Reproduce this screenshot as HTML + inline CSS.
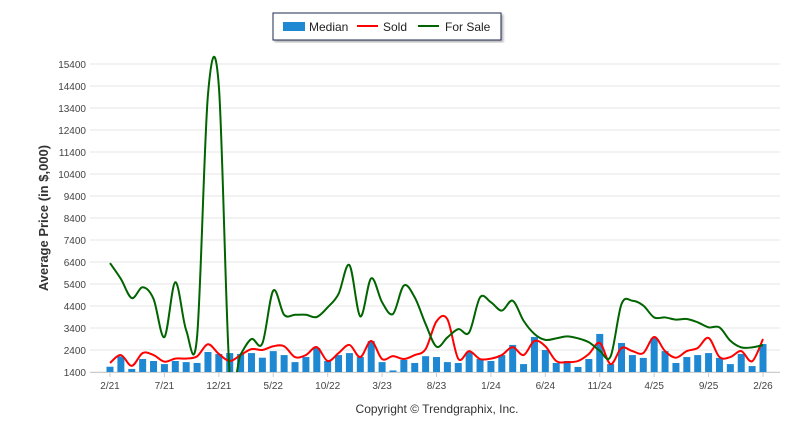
<!DOCTYPE html>
<html><head><meta charset="utf-8"><style>
body{margin:0;background:#fff;width:800px;height:434px;overflow:hidden;font-family:"Liberation Sans",sans-serif}
</style></head><body>
<svg id="chart" width="800" height="434" xmlns="http://www.w3.org/2000/svg">
<defs><clipPath id="pc"><rect x="90" y="40" width="690" height="332"/></clipPath>
<filter id="sh"><feDropShadow dx="2" dy="2" stdDeviation="1" flood-color="#888" flood-opacity="0.6"/></filter></defs>
<g id="grid"></g>
<g id="bars"></g>
<g id="lines" clip-path="url(#pc)"></g>
<g id="xt"></g>
<text x="48" y="218" transform="rotate(-90 48 218)" text-anchor="middle" font-size="13" font-weight="bold" fill="#333">Average Price (in $,000)</text>
<text x="437" y="413" text-anchor="middle" font-size="12" fill="#333">Copyright © Trendgraphix, Inc.</text>
<g>
<rect x="273" y="13" width="228" height="27" fill="#fff" stroke="#1f2a50" stroke-width="1" filter="url(#sh)"/>
<rect x="283" y="22" width="22" height="9" fill="#1e88d2"/>
<text x="309" y="31" font-size="12" fill="#222">Median</text>
<line x1="357" y1="26" x2="378" y2="26" stroke="#f00" stroke-width="2"/>
<text x="383" y="31" font-size="12" fill="#222">Sold</text>
<line x1="418" y1="26" x2="439" y2="26" stroke="#006400" stroke-width="2"/>
<text x="445" y="31" font-size="12" fill="#222">For Sale</text>
</g>
</svg>
<script>
const median=[1640,2110,1540,1990,1900,1760,1900,1850,1810,2310,2220,2260,2220,2260,2050,2350,2170,1850,2080,2490,1900,2170,2260,2080,2810,1850,1470,1950,1810,2120,2080,1850,1810,2310,1990,1900,2170,2630,1760,2990,2400,1810,1900,1630,1990,3130,1760,2720,2170,2040,2950,2350,1810,2080,2170,2260,2040,1760,2220,1670,2670];
const sold=[1810,2170,1680,2260,2170,1870,2010,2010,2110,2660,2220,1900,2170,2440,2400,2570,2570,2080,2170,2530,1900,2260,2630,2080,2810,1990,2120,1990,2170,2440,3700,3800,2000,2350,1990,2010,2170,2530,2170,2810,2570,1900,1850,1900,2220,2720,1760,2490,2350,2260,2990,2350,2050,2350,2490,2950,2080,2080,2350,1890,2900];
const forSale=[6350,5630,4760,5250,4720,2990,5480,3300,3000,14000,14400,1300,2200,2900,2700,5100,4000,4000,4000,3900,4340,4950,6260,3930,5660,4570,4040,5330,4790,3580,2550,2970,3350,3200,4790,4570,4190,4640,3730,3130,2860,2930,3020,2930,2750,2370,2110,4490,4640,4420,3880,3880,3780,3810,3660,3430,3430,2820,2520,2520,2620];
const xLabels=["2/21","7/21","12/21","5/22","10/22","3/23","8/23","1/24","6/24","11/24","4/25","9/25","2/26"];
const yTicks=[1400,2400,3400,4400,5400,6400,7400,8400,9400,10400,11400,12400,13400,14400,15400];
const NS="http://www.w3.org/2000/svg";
const X=i=>110+i*(653/60);
const Y=v=>372-(v-1400)*0.022;
function mk(t,a,p){const e=document.createElementNS(NS,t);for(const k in a)e.setAttribute(k,a[k]);p.appendChild(e);return e;}
const grid=document.getElementById('grid');
yTicks.forEach(v=>{
  const l=mk('line',{x1:90,x2:780,y1:Y(v),y2:Y(v),stroke:'#e6e6e6','stroke-width':1},grid);
  
  
  const t=mk('text',{x:86,y:Y(v)+4,'text-anchor':'end','font-size':10,fill:'#444'},grid);
  t.textContent=v;
  
  
});
const bars=document.getElementById('bars');
median.forEach((v,i)=>{
  const r=mk('rect',{x:X(i)-3.5,y:Y(v),width:7,height:372-Y(v),fill:'#1e88d2'},bars);
  
  
});
function path(arr){
  const p=arr.map((v,i)=>[X(i),Y(v)]);
  let d='M'+p[0][0]+','+p[0][1];
  for(let i=0;i<p.length-1;i++){
    const p0=p[i-1]||p[i],p1=p[i],p2=p[i+1],p3=p[i+2]||p2;
    const c1=[p1[0]+(p2[0]-p0[0])/6,p1[1]+(p2[1]-p0[1])/6];
    const c2=[p2[0]-(p3[0]-p1[0])/6,p2[1]-(p3[1]-p1[1])/6];
    d+=' C'+c1+' '+c2+' '+p2;
  }
  return d;
}
const lines=document.getElementById('lines');
const s=mk('path',{d:path(sold),fill:'none',stroke:'#f00','stroke-width':2},lines);


const f=mk('path',{d:path(forSale),fill:'none',stroke:'#006400','stroke-width':2},lines);


const xt=document.getElementById('xt');
mk('line',{x1:90,x2:780,y1:372.5,y2:372.5,stroke:'#ccc'},xt);
xLabels.forEach((lb,k)=>{
  const x=X(k*5);
  mk('line',{x1:x,x2:x,y1:372,y2:377,stroke:'#ccc'},xt);
  const t=mk('text',{x:x,y:389,'text-anchor':'middle','font-size':10,fill:'#444'},xt);
  t.textContent=lb;
  
  
});
</script>
</body></html>
